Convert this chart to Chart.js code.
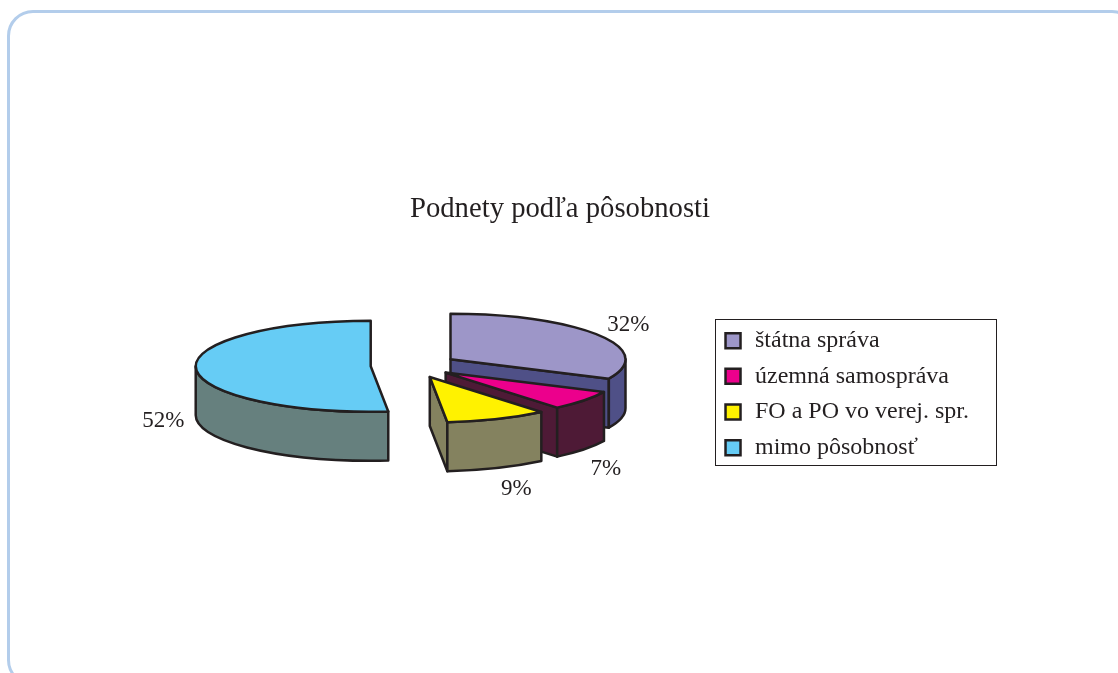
<!DOCTYPE html>
<html lang="sk">
<head>
<meta charset="utf-8">
<title>Podnety podľa pôsobnosti</title>
<script src="https://cdn.jsdelivr.net/npm/chart.js@4"></script>
<style>
html,body{margin:0;padding:0;background:#fff;overflow:hidden;width:1118px;height:673px}
#frame{position:absolute;left:7px;top:10px;width:1125px;height:670px;border:3px solid #b3cdeb;border-radius:26px;box-sizing:content-box}
canvas{position:absolute;left:0;top:0;display:block}
</style>
</head>
<body>
<div id="frame"></div>
<canvas id="c" width="1118" height="673"></canvas>
<script>
const categories = ['štátna správa', 'územná samospráva', 'FO a PO vo verej. spr.', 'mimo pôsobnosť'];
const shares = [32, 7, 9.4, 51.6];
const topColors = ['#9d96c8', '#ec008c', '#fff200', '#66ccf5'];
const wallColors = ['#4f5087', '#4e1a36', '#84825f', '#66807e'];
const explode = [46, 43, 47, 41];
const labelShift = [[30, -10], [22, 68.5], [19, 70], [-32.5, 52]];

const TILT = 0.26, DEPTH = 49, RADIUS = 175;
const INK = '#231f20', SERIF = '"Liberation Serif", serif';

function rimPoint(cx, cy, r, a) {
  return [cx + r * Math.cos(a), cy + TILT * r * Math.sin(a)];
}
function sliceGeometry(el) {
  const mid = (el.startAngle + el.endAngle) / 2, off = el.options.offset || 0;
  return {
    mid,
    cx: el.x + off * Math.cos(mid),
    cy: el.y + TILT * off * Math.sin(mid) - DEPTH / 2,
    r: el.outerRadius
  };
}

// Each pie slice from the library is painted as a tilted solid wedge.
Chart.ArcElement.prototype.draw = function (ctx) {
  const { cx, cy, r } = sliceGeometry(this);
  const s = this.startAngle, e = this.endAngle, ry = r * TILT;
  const o = this.options;
  ctx.save();
  ctx.lineWidth = o.borderWidth;
  ctx.strokeStyle = o.borderColor;
  ctx.lineJoin = 'round';
  ctx.fillStyle = wallColors[topColors.indexOf(o.backgroundColor)];
  const paint = () => { ctx.closePath(); ctx.fill(); ctx.stroke(); };

  if (Math.cos(e) > 0.001) {
    const [px, py] = rimPoint(cx, cy, r, e);
    ctx.beginPath();
    ctx.moveTo(cx, cy); ctx.lineTo(px, py); ctx.lineTo(px, py + DEPTH); ctx.lineTo(cx, cy + DEPTH);
    paint();
  }
  if (Math.cos(s) < -0.001) {
    const [px, py] = rimPoint(cx, cy, r, s);
    ctx.beginPath();
    ctx.moveTo(cx, cy); ctx.lineTo(px, py); ctx.lineTo(px, py + DEPTH); ctx.lineTo(cx, cy + DEPTH);
    paint();
  }
  const a0 = Math.max(s, 0), a1 = Math.min(e, Math.PI);
  if (a1 > a0) {
    ctx.beginPath();
    ctx.ellipse(cx, cy, r, ry, 0, a0, a1);
    ctx.ellipse(cx, cy + DEPTH, r, ry, 0, a1, a0, true);
    paint();
  }
  ctx.fillStyle = o.backgroundColor;
  ctx.beginPath();
  ctx.moveTo(cx, cy);
  ctx.ellipse(cx, cy, r, ry, 0, s, e);
  paint();
  ctx.restore();
};

const decorations = {
  id: 'decorations',
  afterLayout(chart) {
    chart.titleBlock.right = chart.width - chart.titleBlock.left + 2;
    chart.legend.top += 4;
    chart.legend.bottom += 4;
  },
  afterDatasetsDraw(chart) {
    const ctx = chart.ctx;
    ctx.save();
    ctx.font = '23px ' + SERIF;
    ctx.fillStyle = INK;
    ctx.textAlign = 'center';
    ctx.textBaseline = 'middle';
    chart.getDatasetMeta(0).data.forEach((el, i) => {
      const { mid, cx, cy, r } = sliceGeometry(el);
      const [px, py] = rimPoint(cx, cy, r, mid);
      ctx.fillText(Math.round(shares[i]) + '%', px + labelShift[i][0], py + labelShift[i][1]);
    });
    ctx.restore();
  },
  afterDraw(chart) {
    const ctx = chart.ctx;
    ctx.save();
    ctx.strokeStyle = INK;
    ctx.lineWidth = 1;
    ctx.strokeRect(715.5, 319.5, 281, 146);
    ctx.restore();
  }
};

new Chart(document.getElementById('c'), {
  type: 'pie',
  data: {
    labels: categories,
    datasets: [{
      data: shares,
      backgroundColor: topColors,
      borderColor: INK,
      borderWidth: 2.5,
      offset: explode,
      radius: RADIUS
    }]
  },
  plugins: [decorations],
  options: {
    responsive: false,
    animation: false,
    events: [],
    radius: RADIUS,
    layout: { padding: { left: 112, right: 139, top: 0, bottom: 143 } },
    plugins: {
      tooltip: { enabled: false },
      title: {
        display: true,
        text: 'Podnety podľa pôsobnosti',
        color: INK,
        font: { family: SERIF, size: 28.7, weight: 'normal', lineHeight: 1.2 },
        padding: { top: 192, bottom: 24 }
      },
      legend: {
        position: 'right',
        align: 'center',
        fullSize: false,
        labels: {
          color: INK,
          font: { family: SERIF, size: 24 },
          usePointStyle: true,
          pointStyle: 'rect',
          boxWidth: 20,
          boxHeight: 15,
          padding: 11.7
        }
      }
    }
  }
});
</script>
</body>
</html>
